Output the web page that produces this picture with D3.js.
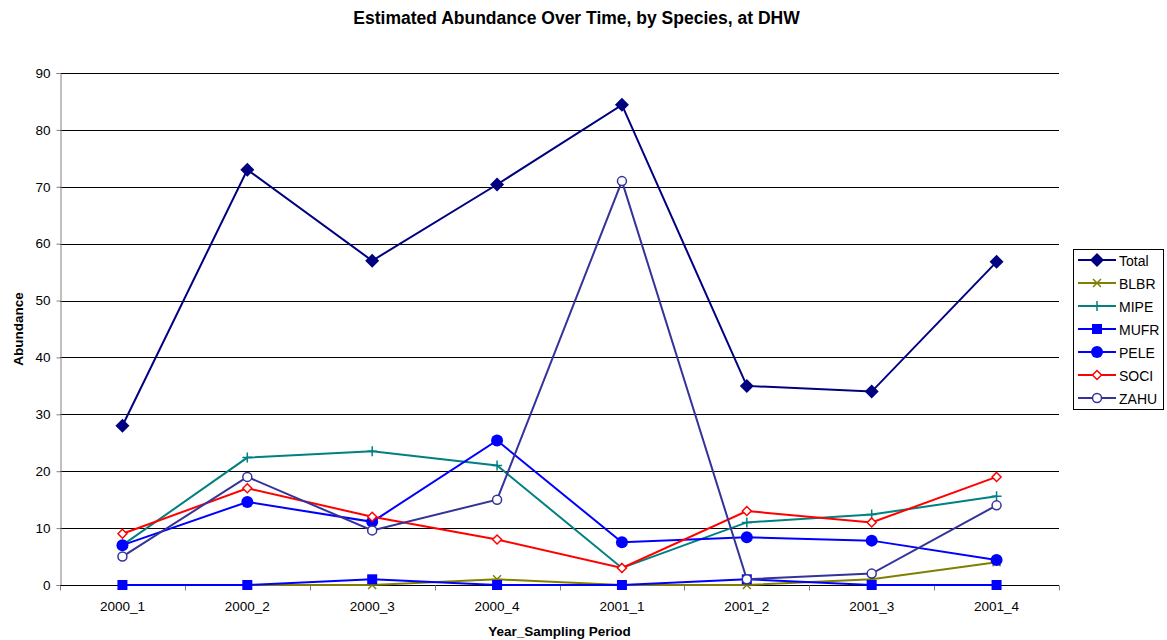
<!DOCTYPE html>
<html>
<head>
<meta charset="utf-8">
<script src="https://cdn.jsdelivr.net/npm/d3@7"></script>
<style>
  html, body { margin: 0; padding: 0; background: #fff; }
  svg { display: block; font-family: "Liberation Sans", Arial, sans-serif; }
</style>
</head>
<body>
<svg id="chart" width="1167" height="640"></svg>
<script>
// Sampling periods and per-species abundance estimates
const periods = ["2000_1", "2000_2", "2000_3", "2000_4", "2001_1", "2001_2", "2001_3", "2001_4"];
const yTicks = [0, 10, 20, 30, 40, 50, 60, 70, 80, 90];

const total = [28, 73, 57, 70.4, 84.4, 35, 34, 56.8];
const blbr  = [0, 0, 0, 1, 0, 0, 1, 4];
const mipe  = [7, 22.4, 23.5, 21, 3, 11, 12.4, 15.6];
const mufr  = [0, 0, 1, 0, 0, 1, 0, 0];
const pele  = [7, 14.6, 11.1, 25.4, 7.5, 8.4, 7.8, 4.4];
const soci  = [9, 17, 12, 8, 3, 13, 11, 19];
const zahu  = [5, 19, 9.6, 15, 71, 1, 2, 14];

const series = [
  { name: "Total", values: total, color: "#000080", marker: "diamond" },
  { name: "BLBR",  values: blbr,  color: "#808000", marker: "cross" },
  { name: "MIPE",  values: mipe,  color: "#008080", marker: "plus" },
  { name: "MUFR",  values: mufr,  color: "#0000FF", marker: "square" },
  { name: "PELE",  values: pele,  color: "#0000FF", marker: "circle" },
  { name: "SOCI",  values: soci,  color: "#FF0000", marker: "openDiamond" },
  { name: "ZAHU",  values: zahu,  color: "#333399", marker: "openCircle" }
];

const svg = d3.select("#chart");
const plot = { left: 60, right: 1059, top: 73, bottom: 585 };

const x = d3.scaleBand().domain(periods).range([plot.left, plot.right]);
const y = d3.scaleLinear().domain([0, 90]).range([plot.bottom, plot.top]);
const cx = d => x(d) + x.bandwidth() / 2;

// Horizontal gridlines
svg.append("g")
  .selectAll("line")
  .data(yTicks.filter(t => t > 0))
  .join("line")
  .attr("x1", plot.left).attr("x2", plot.right)
  .attr("y1", d => Math.round(y(d)) + 0.5).attr("y2", d => Math.round(y(d)) + 0.5)
  .attr("stroke", "#000").attr("stroke-width", 1);

// Y axis
const yAxis = svg.append("g")
  .attr("transform", `translate(${plot.left + 0.5},0)`)
  .call(d3.axisLeft(y).tickValues(yTicks).tickSize(4).tickPadding(6));
yAxis.select(".domain").attr("stroke", "#808080");
yAxis.selectAll(".tick line").attr("stroke", "#808080");
yAxis.selectAll(".tick text").attr("font-size", 13.5).attr("fill", "#000")
  .attr("font-family", "Liberation Sans, Arial, sans-serif");

// X axis: ticks on band boundaries, labels centred in bands
const xAxisG = svg.append("g").attr("transform", `translate(0,${plot.bottom + 0.5})`);
xAxisG.append("line")
  .attr("x1", plot.left).attr("x2", plot.right)
  .attr("stroke", "#000");
const boundaries = periods.map(p => x(p)).concat([plot.right]);
xAxisG.selectAll("line.tk")
  .data(boundaries)
  .join("line").attr("class", "tk")
  .attr("x1", d => Math.round(d) + 0.5).attr("x2", d => Math.round(d) + 0.5)
  .attr("y1", 0).attr("y2", 5)
  .attr("stroke", "#808080");
xAxisG.selectAll("text")
  .data(periods)
  .join("text")
  .attr("x", d => cx(d)).attr("y", 25.5)
  .attr("text-anchor", "middle")
  .attr("font-size", 13.5)
  .text(d => d);

// Axis titles and chart title
svg.append("text")
  .attr("x", 576.5).attr("y", 24.3)
  .attr("text-anchor", "middle")
  .attr("font-size", 17.5).attr("font-weight", "bold")
  .text("Estimated Abundance Over Time, by Species, at DHW");

svg.append("text")
  .attr("x", (plot.left + plot.right) / 2).attr("y", 636)
  .attr("text-anchor", "middle")
  .attr("font-size", 13.5).attr("font-weight", "bold")
  .text("Year_Sampling Period");

svg.append("text")
  .attr("transform", `translate(23,${(plot.top + plot.bottom) / 2}) rotate(-90)`)
  .attr("text-anchor", "middle")
  .attr("font-size", 13.5).attr("font-weight", "bold")
  .text("Abundance");

// Marker drawing
function drawMarker(g, type, color) {
  switch (type) {
    case "diamond":
      g.append("path").attr("d", "M0,-7L7,0L0,7L-7,0Z").attr("fill", color);
      break;
    case "cross":
      g.append("path").attr("d", "M-4,-4L4,4M-4,4L4,-4")
        .attr("stroke", color).attr("stroke-width", 1.5).attr("fill", "none");
      break;
    case "plus":
      g.append("path").attr("d", "M-5,0L5,0M0,-5L0,5")
        .attr("stroke", color).attr("stroke-width", 1.5).attr("fill", "none");
      break;
    case "square":
      g.append("rect").attr("x", -5).attr("y", -5).attr("width", 10).attr("height", 10)
        .attr("fill", color);
      break;
    case "circle":
      g.append("circle").attr("r", 6).attr("fill", color);
      break;
    case "openDiamond":
      g.append("path").attr("d", "M0,-4.5L4.5,0L0,4.5L-4.5,0Z")
        .attr("fill", "#fff").attr("stroke", color).attr("stroke-width", 1.5);
      break;
    case "openCircle":
      g.append("circle").attr("r", 4.5)
        .attr("fill", "#fff").attr("stroke", color).attr("stroke-width", 1.5);
      break;
  }
}

const line = d3.line().x(d => cx(d.p)).y(d => y(d.v));

series.forEach(s => {
  const pts = periods.map((p, i) => ({ p, v: s.values[i] }));
  const g = svg.append("g");
  g.append("path")
    .datum(pts)
    .attr("d", line)
    .attr("fill", "none")
    .attr("stroke", s.color)
    .attr("stroke-width", 2);
  pts.forEach(d => {
    const m = g.append("g").attr("transform", `translate(${cx(d.p)},${y(d.v)})`);
    drawMarker(m, s.marker, s.color);
  });
});

// Legend
const legend = svg.append("g");
legend.append("rect")
  .attr("x", 1073.5).attr("y", 249.5).attr("width", 90).attr("height", 160)
  .attr("fill", "#fff").attr("stroke", "#000").attr("stroke-width", 1);
series.forEach((s, i) => {
  const ly = 260 + i * 23;
  const item = legend.append("g");
  item.append("line")
    .attr("x1", 1078).attr("x2", 1116).attr("y1", ly).attr("y2", ly)
    .attr("stroke", s.color).attr("stroke-width", 2);
  drawMarker(item.append("g").attr("transform", `translate(1097,${ly})`), s.marker, s.color);
  item.append("text")
    .attr("x", 1119).attr("y", ly + 5.5)
    .attr("font-size", 14)
    .text(s.name);
});
</script>
</body>
</html>
